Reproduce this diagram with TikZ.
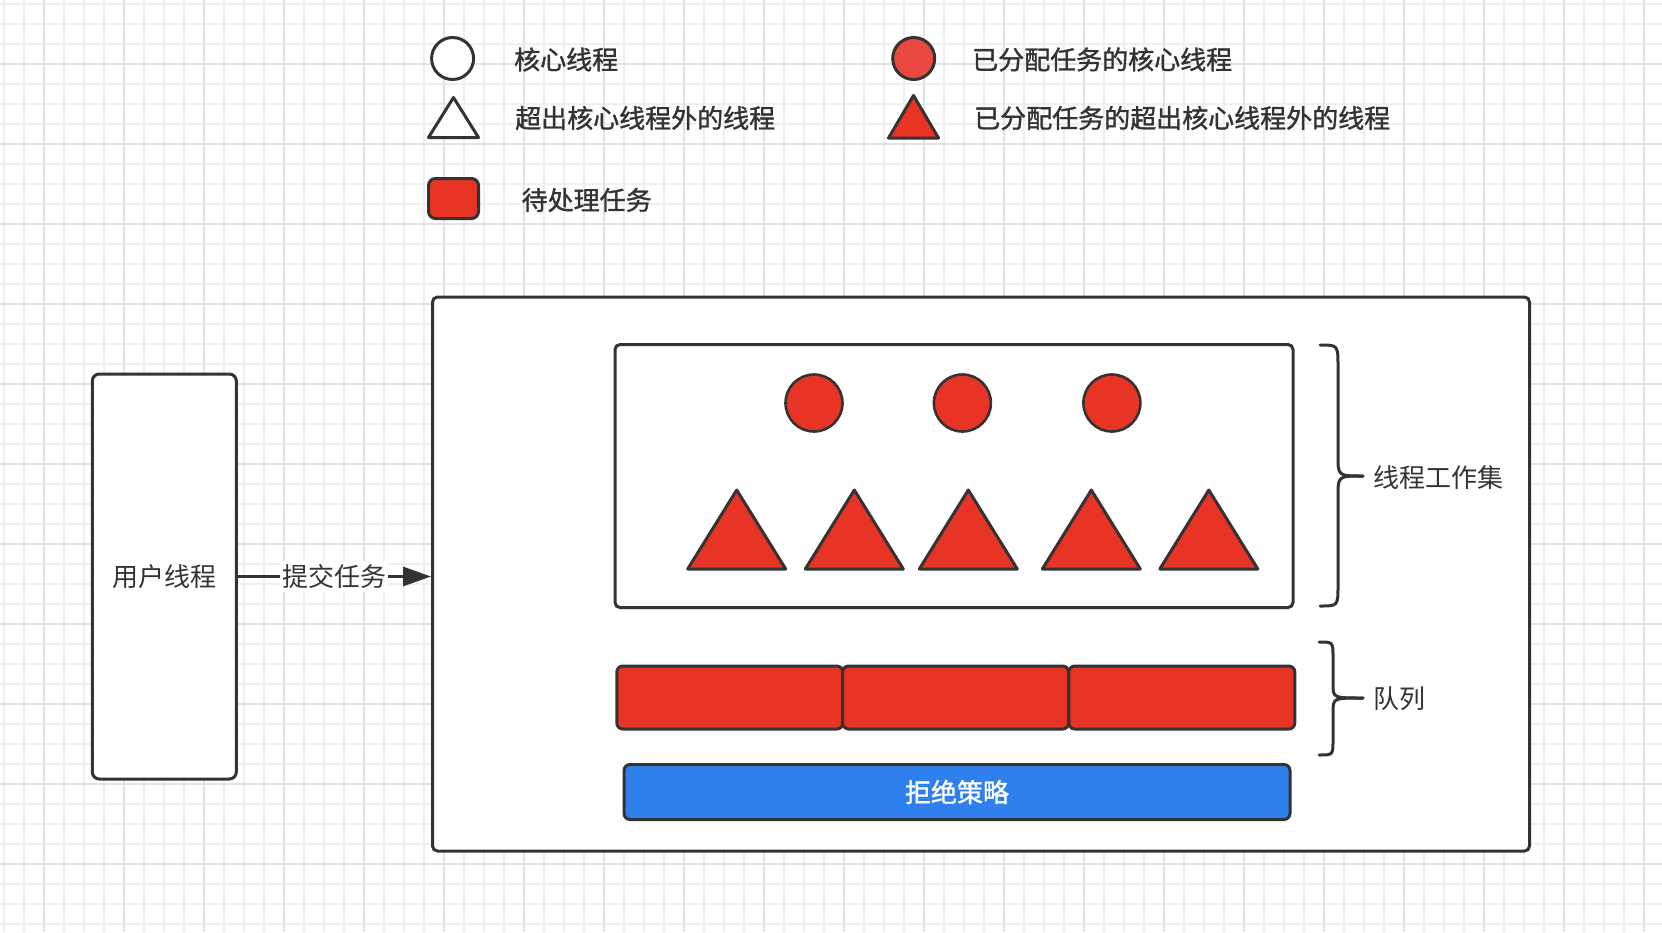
\documentclass[tikz,border=0pt]{standalone}
\usepackage{fontspec}
\setmainfont{Noto Sans CJK SC}
\newfontfamily\legfont{Noto Sans CJK SC}[FakeBold=1.3]
\usetikzlibrary{arrows.meta,calc}
\definecolor{dk}{HTML}{333333}
\definecolor{tred}{HTML}{E83424}
\definecolor{lred}{HTML}{E8483F}
\definecolor{tblue}{HTML}{2F80ED}
\definecolor{gminor}{HTML}{EFEFEF}
\definecolor{gmajor}{HTML}{E2E2E2}
\begin{document}
\begin{tikzpicture}[x=1pt,y=-1pt,
  outline/.style={draw=dk, line width=3pt},
  txt/.style={font=\fontsize{26}{30}\selectfont, text=dk, inner sep=0pt},
  legtxt/.style={font=\legfont\fontsize{26}{30}\selectfont, text=dk, inner sep=0pt, anchor=west},
  legcirc/.style={outline, circle, minimum size=42pt, inner sep=0pt},
  workcirc/.style={outline, line width=2.6pt, circle, fill=tred, minimum size=57pt, inner sep=0pt},
  tri/.style={outline, fill=tred, line join=round},
  box/.style={outline, fill=white, inner sep=0pt},
  qseg/.style={outline, fill=tred, rounded corners=6pt, minimum width=226pt, minimum height=63pt, inner sep=0pt},
  bracepath/.style={draw=dk, line width=3pt, line cap=round},
  gridminor/.style={gminor, line width=1.5pt},
  gridmajor/.style={gmajor, line width=1.8pt}
]
\useasboundingbox (0,0) rectangle (1662,932);
\fill[white] (0,0) rectangle (1662,932);
% background grid
\foreach \gx in {4,24,...,1664} \draw[gridminor] (\gx,0) -- (\gx,932);
\foreach \gy in {4,24,...,944} \draw[gridminor] (0,\gy) -- (1662,\gy);
\foreach \gx in {44,124,...,1664} \draw[gridmajor] (\gx,0) -- (\gx,932);
\foreach \gy in {64,144,...,944} \draw[gridmajor] (0,\gy) -- (1662,\gy);

% legend
\node[legcirc, fill=white] (lc1) at (452.6,58.5) {};
\node[legtxt] (lt1) at (514,59.5) {核心线程};
\draw[outline, fill=white, line join=round] (428.5,137.5) -- (453.5,97.5) -- (478.5,137.5) -- cycle;
\node[legtxt] (lt2) at (515,118) {超出核心线程外的线程};
\node[outline, fill=tred, rounded corners=7pt, minimum width=50pt, minimum height=40pt, inner sep=0pt] (lsq) at (453.5,198.5) {};
\node[legtxt] (lt3) at (521.5,200) {待处理任务};
\node[legcirc, fill=lred] (lc2) at (913.7,58.5) {};
\node[legtxt] (lt4) at (972,59.5) {已分配任务的核心线程};
\draw[tri] (888.5,138) -- (913.5,95.5) -- (938.5,138) -- cycle;
\node[legtxt] (lt5) at (974,118) {已分配任务的超出核心线程外的线程};

% user thread
\node[box, rounded corners=7pt, minimum width=144pt, minimum height=405pt] (user) at (164.3,576.5) {};
\node[txt] (usertxt) at (user.center) {用户线程};

% thread pool
\node[box, rounded corners=5pt, minimum width=1097pt, minimum height=554pt] (pool) at (981,574) {};
\draw[draw=dk, line width=3pt, -{Triangle[length=28pt,width=19pt]}] (user.east) -- (user.east -| pool.west)
  node[pos=0.5, txt, fill=white, inner xsep=2pt, inner ysep=3pt] (submit) {提交任务};

% working set
\node[box, rounded corners=5pt, minimum width=678pt, minimum height=263pt] (work) at (954,476) {};
\node[workcirc] (w1) at (814,403) {};
\node[workcirc] (w2) at (962.4,403) {};
\node[workcirc] (w3) at (1111.9,403) {};
\foreach \cx in {736.7,854.3,968.3,1091.3,1208.8}
  \draw[tri] (\cx-49,569) -- (\cx,490) -- (\cx+49,569) -- cycle;

% queue
\node[qseg] (q1) at (729.8,697.5) {};
\node[qseg] (q2) at (955.6,697.5) {};
\node[qseg] (q3) at (1181.8,697.5) {};

% reject policy
\node[outline, fill=tblue, rounded corners=6pt, minimum width=666pt, minimum height=55pt, inner sep=0pt,
  font=\legfont\fontsize{26}{30}\selectfont, text=white] (reject) at (957,792) {拒绝策略};

% braces
\draw[bracepath] (1320,345) .. controls (1338,345) .. (1338,367) -- (1338,456)
  .. controls (1338,476) .. (1363,476);
\draw[bracepath] (1363,476) .. controls (1338,476) .. (1338,496) -- (1338,585)
  .. controls (1338,606) .. (1320,606);
\node[txt, anchor=west] (worklbl) at (1373,478) {线程工作集};

\draw[bracepath] (1319,642) .. controls (1333,642) .. (1333,657) -- (1333,684)
  .. controls (1333,698) .. (1363,698);
\draw[bracepath] (1363,698) .. controls (1333,698) .. (1333,712) -- (1333,740)
  .. controls (1333,755) .. (1319,755);
\node[txt, anchor=west] (queuelbl) at (1373,699) {队列};
\end{tikzpicture}
\end{document}
